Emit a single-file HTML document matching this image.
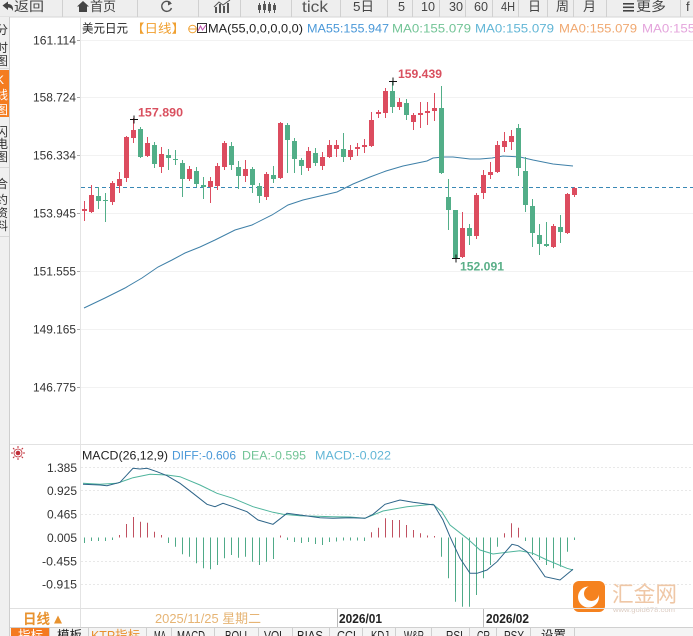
<!DOCTYPE html>
<html><head><meta charset="utf-8"><style>
html,body{margin:0;padding:0;background:#fff;width:693px;height:636px;overflow:hidden}
svg{display:block}
text{font-family:"Liberation Sans","Noto Sans CJK SC",sans-serif}
</style></head><body>
<svg width="693" height="636" viewBox="0 0 693 636" xmlns="http://www.w3.org/2000/svg">
<!-- top bar -->
<rect x="0" y="0" width="693" height="17" fill="#eeeeee"/>
<line x1="0" y1="17" x2="693" y2="17" stroke="#d6d6d6"/>
<g stroke="#d0d0d0"><line x1="62.5" y1="0" x2="62.5" y2="17"/><line x1="137.5" y1="0" x2="137.5" y2="17"/><line x1="198.5" y1="0" x2="198.5" y2="17"/><line x1="240.5" y1="0" x2="240.5" y2="17"/><line x1="291.5" y1="0" x2="291.5" y2="17"/><line x1="340.5" y1="0" x2="340.5" y2="17"/><line x1="387.5" y1="0" x2="387.5" y2="17"/><line x1="412.5" y1="0" x2="412.5" y2="17"/><line x1="439.5" y1="0" x2="439.5" y2="17"/><line x1="465.5" y1="0" x2="465.5" y2="17"/><line x1="492.5" y1="0" x2="492.5" y2="17"/><line x1="518.5" y1="0" x2="518.5" y2="17"/><line x1="547.5" y1="0" x2="547.5" y2="17"/><line x1="573.5" y1="0" x2="573.5" y2="17"/><line x1="606.5" y1="0" x2="606.5" y2="17"/><line x1="680.5" y1="0" x2="680.5" y2="17"/></g>
<path d="M2.5 5.5 L8 1.5 L8 4 Q13.5 4 13 11 Q11.5 7.5 8 7.5 L8 10 Z" fill="#444"/>
<g fill="#444" font-size="13">
<text x="14" y="11" textLength="30" lengthAdjust="spacingAndGlyphs">返回</text>
<text x="90" y="11" textLength="26" lengthAdjust="spacingAndGlyphs">首页</text>
<text x="302" y="12" font-size="16" fill="#555" textLength="26" lengthAdjust="spacingAndGlyphs">tick</text>
<text x="353" y="11" textLength="21" lengthAdjust="spacingAndGlyphs">5日</text>
<text x="398" y="11" textLength="7" lengthAdjust="spacingAndGlyphs">5</text>
<text x="421" y="11" textLength="14" lengthAdjust="spacingAndGlyphs">10</text>
<text x="449" y="11" textLength="14" lengthAdjust="spacingAndGlyphs">30</text>
<text x="474" y="11" textLength="14" lengthAdjust="spacingAndGlyphs">60</text>
<text x="501" y="11" textLength="14" lengthAdjust="spacingAndGlyphs">4H</text>
<text x="528" y="11" textLength="13" lengthAdjust="spacingAndGlyphs">日</text>
<text x="556" y="11" textLength="13" lengthAdjust="spacingAndGlyphs">周</text>
<text x="583" y="11" textLength="13" lengthAdjust="spacingAndGlyphs">月</text>
<text x="636" y="11" textLength="30" lengthAdjust="spacingAndGlyphs">更多</text>
<text x="686" y="11">f</text>
</g>
<path d="M77 6.5 L83 1 L89 6.5 L87 6.5 L87 12 L79 12 L79 6.5 Z" fill="#444"/>
<path d="M170.5 3 A5 5 0 1 0 171.5 8" fill="none" stroke="#555" stroke-width="1.4"/>
<path d="M168 1 L172 3.5 L168 5.5 Z" fill="#555"/>
<g fill="#555"><rect x="215" y="7" width="2" height="6"/><rect x="219" y="4" width="2" height="9"/><rect x="223" y="6" width="2" height="7"/><rect x="227" y="3" width="2" height="10"/></g>
<path d="M214 7 L219 2 L223 5 L230 0" fill="none" stroke="#555" stroke-width="1"/>
<g fill="#555"><rect x="259" y="3" width="1" height="10"/><rect x="258" y="5" width="3" height="5"/><rect x="264" y="1" width="1" height="12"/><rect x="263" y="4" width="3" height="6"/><rect x="269" y="2" width="1" height="11"/><rect x="268" y="4" width="3" height="7"/><rect x="274" y="3" width="1" height="10"/><rect x="273" y="5" width="3" height="5"/></g>
<g fill="#444"><rect x="623" y="3" width="11" height="1.6"/><rect x="623" y="6.5" width="11" height="1.6"/><rect x="623" y="10" width="11" height="1.6"/></g>

<!-- sidebar -->
<rect x="0" y="17" width="9.5" height="619" fill="#f0f0f0"/>
<rect x="0" y="70" width="9.5" height="47" fill="#f47c20"/>
<line x1="9.5" y1="17" x2="9.5" y2="636" stroke="#cfcfcf"/>
<g font-size="12" fill="#333">
<text x="-4" y="34">分</text><text x="-4" y="52">时</text><text x="-4" y="65">图</text>
<text x="-4" y="84" fill="#fff">K</text><text x="-4" y="99" fill="#fff">线</text><text x="-4" y="114" fill="#fff">图</text>
<text x="-4" y="136">闪</text><text x="-4" y="148">电</text><text x="-4" y="161">图</text>
<text x="-4" y="188">合</text><text x="-4" y="204">约</text><text x="-4" y="217">资</text><text x="-4" y="230">料</text>
</g>
<line x1="0" y1="68.5" x2="9" y2="68.5" stroke="#d8d8d8"/><line x1="0" y1="167.5" x2="9" y2="167.5" stroke="#d8d8d8"/><line x1="0" y1="236.5" x2="9" y2="236.5" stroke="#d8d8d8"/>

<!-- axis border -->
<line x1="80.5" y1="17" x2="80.5" y2="608" stroke="#e4e4e4"/>
<!-- main gridlines -->
<g stroke="#f2f2f2"><line x1="81" y1="40.5" x2="693" y2="40.5"/><line x1="81" y1="97.5" x2="693" y2="97.5"/><line x1="81" y1="155.5" x2="693" y2="155.5"/><line x1="81" y1="213.5" x2="693" y2="213.5"/><line x1="81" y1="271.5" x2="693" y2="271.5"/><line x1="81" y1="329.5" x2="693" y2="329.5"/><line x1="81" y1="387.5" x2="693" y2="387.5"/></g>
<g stroke="#aaa"><line x1="77" y1="40.5" x2="80" y2="40.5"/><line x1="77" y1="97.5" x2="80" y2="97.5"/><line x1="77" y1="155.5" x2="80" y2="155.5"/><line x1="77" y1="213.5" x2="80" y2="213.5"/><line x1="77" y1="271.5" x2="80" y2="271.5"/><line x1="77" y1="329.5" x2="80" y2="329.5"/><line x1="77" y1="387.5" x2="80" y2="387.5"/></g>
<g font-size="12" fill="#333" text-anchor="end">
<text x="76" y="44.5" textLength="43" lengthAdjust="spacingAndGlyphs">161.114</text>
<text x="76" y="101.5" textLength="43" lengthAdjust="spacingAndGlyphs">158.724</text>
<text x="76" y="159.5" textLength="43" lengthAdjust="spacingAndGlyphs">156.334</text>
<text x="76" y="217.5" textLength="43" lengthAdjust="spacingAndGlyphs">153.945</text>
<text x="76" y="275.5" textLength="43" lengthAdjust="spacingAndGlyphs">151.555</text>
<text x="76" y="333.5" textLength="43" lengthAdjust="spacingAndGlyphs">149.165</text>
<text x="76" y="391.5" textLength="43" lengthAdjust="spacingAndGlyphs">146.775</text>
</g>

<!-- title -->
<g font-size="12">
<text x="82" y="32.5" fill="#222" textLength="46" lengthAdjust="spacingAndGlyphs">美元日元</text>
<text x="131" y="32.5" fill="#f0a030" textLength="54" lengthAdjust="spacingAndGlyphs">【日线】</text>
<text x="208" y="32.5" fill="#222" textLength="95" lengthAdjust="spacingAndGlyphs">MA(55,0,0,0,0,0)</text>
<text x="307" y="32.5" fill="#4a98d8" textLength="82" lengthAdjust="spacingAndGlyphs">MA55:155.947</text>
<text x="392" y="32.5" fill="#72c496" textLength="79" lengthAdjust="spacingAndGlyphs">MA0:155.079</text>
<text x="475" y="32.5" fill="#62b6d6" textLength="79" lengthAdjust="spacingAndGlyphs">MA0:155.079</text>
<text x="559" y="32.5" fill="#f0a870" textLength="78" lengthAdjust="spacingAndGlyphs">MA0:155.079</text>
<text x="642" y="32.5" fill="#e4a4dc" textLength="79" lengthAdjust="spacingAndGlyphs">MA0:155.079</text>
</g>
<circle cx="192.5" cy="29" r="3.8" fill="none" stroke="#f0a030"/>
<line x1="189" y1="29" x2="196" y2="29" stroke="#f0a030"/>
<rect x="197.5" y="23.5" width="9" height="9" fill="#fff" stroke="#333"/>
<path d="M198 31 L200.5 26 L202.5 30 L206 25" fill="none" stroke="#c050b0"/>

<!-- dashed price line -->
<line x1="81" y1="187.5" x2="693" y2="187.5" stroke="#3a88b5" stroke-dasharray="4 3"/>
<!-- MA55 -->
<polyline fill="none" stroke="#3f80a8" stroke-width="1" points="84,308 105,298 125,288 142,278 158,267 172,260 185,253 200,247 215,240 235,230 252,225 272,215 288,205 303,200 320,196 337,192 353,184 370,177 386,171 403,166 427,161 433,158 443,157 453,157 470,159 480,159 492,158 503,156 520,157 533,160 553,164 573,166"/>

<!-- candles red -->
<g fill="#dc4c5f">
<rect x="84" y="201" width="1" height="20"/><rect x="82" y="209" width="5" height="2"/>
<rect x="91" y="185" width="1" height="28"/><rect x="89" y="195" width="5" height="17"/>
<rect x="112" y="181" width="1" height="24"/><rect x="110" y="183" width="5" height="19"/>
<rect x="119" y="172" width="1" height="21"/><rect x="117" y="179" width="5" height="7"/>
<rect x="126" y="136" width="1" height="46"/><rect x="124" y="137" width="5" height="41"/>
<rect x="133" y="118" width="1" height="25"/><rect x="131" y="130" width="5" height="8"/>
<rect x="147" y="137" width="1" height="20"/><rect x="145" y="143" width="5" height="13"/>
<rect x="161" y="147" width="1" height="26"/><rect x="159" y="154" width="5" height="13"/>
<rect x="189" y="166" width="1" height="15"/><rect x="187" y="169" width="5" height="10"/>
<rect x="210" y="177" width="1" height="26"/><rect x="208" y="181" width="5" height="6"/>
<rect x="217" y="163" width="1" height="27"/><rect x="215" y="166" width="5" height="20"/>
<rect x="224" y="141" width="1" height="29"/><rect x="222" y="143" width="5" height="24"/>
<rect x="245" y="160" width="1" height="22"/><rect x="243" y="169" width="5" height="7"/>
<rect x="266" y="172" width="1" height="28"/><rect x="264" y="174" width="5" height="23"/>
<rect x="280" y="122" width="1" height="57"/><rect x="278" y="123" width="5" height="55"/>
<rect x="308" y="147" width="1" height="24"/><rect x="306" y="151" width="5" height="17"/>
<rect x="322" y="152" width="1" height="18"/><rect x="320" y="157" width="5" height="9"/>
<rect x="329" y="140" width="1" height="18"/><rect x="327" y="145" width="5" height="12"/>
<rect x="336" y="140" width="1" height="17"/><rect x="334" y="145" width="5" height="4"/>
<rect x="350" y="145" width="1" height="15"/><rect x="348" y="150" width="5" height="7"/>
<rect x="357" y="143" width="1" height="13"/><rect x="355" y="147" width="5" height="2"/>
<rect x="364" y="139" width="1" height="14"/><rect x="362" y="145" width="5" height="2"/>
<rect x="371" y="112" width="1" height="35"/><rect x="369" y="120" width="5" height="26"/>
<rect x="378" y="110" width="1" height="8"/><rect x="376" y="112" width="5" height="2"/>
<rect x="385" y="88" width="1" height="30"/><rect x="383" y="91" width="5" height="22"/>
<rect x="399" y="98" width="1" height="12"/><rect x="397" y="102" width="5" height="5"/>
<rect x="413" y="113" width="1" height="17"/><rect x="411" y="115" width="5" height="7"/>
<rect x="420" y="102" width="1" height="26"/><rect x="418" y="113" width="5" height="2"/>
<rect x="427" y="102" width="1" height="23"/><rect x="425" y="111" width="5" height="2"/>
<rect x="434" y="93" width="1" height="28"/><rect x="432" y="108" width="5" height="3"/>
<rect x="462" y="212" width="1" height="46"/><rect x="460" y="228" width="5" height="29"/>
<rect x="476" y="193" width="1" height="46"/><rect x="474" y="195" width="5" height="41"/>
<rect x="483" y="170" width="1" height="29"/><rect x="481" y="175" width="5" height="18"/>
<rect x="490" y="162" width="1" height="17"/><rect x="488" y="172" width="5" height="3"/>
<rect x="497" y="141" width="1" height="32"/><rect x="495" y="145" width="5" height="27"/>
<rect x="504" y="132" width="1" height="20"/><rect x="502" y="141" width="5" height="6"/>
<rect x="511" y="130" width="1" height="20"/><rect x="509" y="136" width="5" height="6"/>
<rect x="553" y="224" width="1" height="24"/><rect x="551" y="226" width="5" height="21"/>
<rect x="567" y="193" width="1" height="41"/><rect x="565" y="194" width="5" height="39"/>
<rect x="574" y="187" width="1" height="10"/><rect x="572" y="188" width="5" height="7"/>
</g>
<!-- candles green -->
<g fill="#52ae88">
<rect x="98" y="187" width="1" height="22"/><rect x="96" y="196" width="5" height="5"/>
<rect x="105" y="193" width="1" height="29"/><rect x="103" y="200" width="5" height="1"/>
<rect x="140" y="127" width="1" height="31"/><rect x="138" y="129" width="5" height="28"/>
<rect x="154" y="142" width="1" height="26"/><rect x="152" y="145" width="5" height="19"/>
<rect x="168" y="149" width="1" height="21"/><rect x="166" y="155" width="5" height="3"/>
<rect x="175" y="150" width="1" height="15"/><rect x="173" y="159" width="5" height="1"/>
<rect x="182" y="160" width="1" height="37"/><rect x="180" y="163" width="5" height="16"/>
<rect x="196" y="167" width="1" height="20"/><rect x="194" y="171" width="5" height="13"/>
<rect x="203" y="177" width="1" height="22"/><rect x="201" y="185" width="5" height="2"/>
<rect x="231" y="142" width="1" height="28"/><rect x="229" y="146" width="5" height="19"/>
<rect x="238" y="161" width="1" height="28"/><rect x="236" y="167" width="5" height="9"/>
<rect x="252" y="167" width="1" height="26"/><rect x="250" y="169" width="5" height="16"/>
<rect x="259" y="183" width="1" height="20"/><rect x="257" y="186" width="5" height="10"/>
<rect x="273" y="166" width="1" height="17"/><rect x="271" y="175" width="5" height="4"/>
<rect x="287" y="123" width="1" height="50"/><rect x="285" y="125" width="5" height="15"/>
<rect x="294" y="138" width="1" height="35"/><rect x="292" y="141" width="5" height="18"/>
<rect x="301" y="158" width="1" height="17"/><rect x="299" y="160" width="5" height="6"/>
<rect x="315" y="148" width="1" height="18"/><rect x="313" y="153" width="5" height="10"/>
<rect x="343" y="133" width="1" height="29"/><rect x="341" y="149" width="5" height="8"/>
<rect x="392" y="81" width="1" height="32"/><rect x="390" y="91" width="5" height="16"/>
<rect x="406" y="99" width="1" height="21"/><rect x="404" y="103" width="5" height="12"/>
<rect x="441" y="86" width="1" height="88"/><rect x="439" y="108" width="5" height="65"/>
<rect x="448" y="179" width="1" height="51"/><rect x="446" y="197" width="5" height="13"/>
<rect x="455" y="210" width="1" height="48"/><rect x="453" y="210" width="5" height="48"/>
<rect x="469" y="224" width="1" height="21"/><rect x="467" y="228" width="5" height="8"/>
<rect x="518" y="124" width="1" height="52"/><rect x="516" y="128" width="5" height="40"/>
<rect x="525" y="157" width="1" height="55"/><rect x="523" y="171" width="5" height="34"/>
<rect x="532" y="199" width="1" height="48"/><rect x="530" y="206" width="5" height="27"/>
<rect x="539" y="224" width="1" height="31"/><rect x="537" y="235" width="5" height="9"/>
<rect x="546" y="222" width="1" height="25"/><rect x="544" y="244" width="5" height="2"/>
<rect x="560" y="215" width="1" height="28"/><rect x="558" y="227" width="5" height="5"/>
</g>

<!-- high/low markers -->
<g stroke="#111" stroke-width="1">
<line x1="130" y1="119.5" x2="138" y2="119.5"/><line x1="134" y1="115.5" x2="134" y2="123.5"/>
<line x1="389" y1="81.5" x2="397" y2="81.5"/><line x1="393" y1="77.5" x2="393" y2="85.5"/>
<line x1="452" y1="258.5" x2="460" y2="258.5"/><line x1="456" y1="254.5" x2="456" y2="262.5"/>
</g>
<g font-size="12" font-weight="bold">
<text x="138" y="116.5" fill="#d9505f" textLength="45" lengthAdjust="spacingAndGlyphs">157.890</text>
<text x="398" y="78" fill="#d9505f" textLength="44" lengthAdjust="spacingAndGlyphs">159.439</text>
<text x="460" y="270.5" fill="#5aaf88" textLength="44" lengthAdjust="spacingAndGlyphs">152.091</text>
</g>

<!-- MACD panel -->
<line x1="10" y1="444.5" x2="693" y2="444.5" stroke="#e2e2e2"/>
<g stroke="#e8e8e8" stroke-dasharray="2 2"><line x1="81" y1="467.5" x2="693" y2="467.5"/><line x1="81" y1="490.5" x2="693" y2="490.5"/><line x1="81" y1="514.5" x2="693" y2="514.5"/><line x1="81" y1="561.5" x2="693" y2="561.5"/><line x1="81" y1="584.5" x2="693" y2="584.5"/></g>
<g fill="#c0303a"><circle cx="18" cy="453" r="2.3"/></g>
<circle cx="18" cy="453" r="4" fill="none" stroke="#c0303a" stroke-width="0.8"/>
<g stroke="#c0303a" stroke-width="1"><line x1="18" y1="446" x2="18" y2="448"/><line x1="18" y1="458" x2="18" y2="460"/><line x1="11" y1="453" x2="13" y2="453"/><line x1="23" y1="453" x2="25" y2="453"/><line x1="13" y1="448" x2="14.4" y2="449.4"/><line x1="21.6" y1="456.6" x2="23" y2="458"/><line x1="13" y1="458" x2="14.4" y2="456.6"/><line x1="21.6" y1="449.4" x2="23" y2="448"/></g>
<g font-size="12">
<text x="82" y="459.5" fill="#222" textLength="86" lengthAdjust="spacingAndGlyphs">MACD(26,12,9)</text>
<text x="172" y="459.5" fill="#4a98d8" textLength="64" lengthAdjust="spacingAndGlyphs">DIFF:-0.606</text>
<text x="242" y="459.5" fill="#72c496" textLength="64" lengthAdjust="spacingAndGlyphs">DEA:-0.595</text>
<text x="315" y="459.5" fill="#62b6d6" textLength="76" lengthAdjust="spacingAndGlyphs">MACD:-0.022</text>
</g>
<g font-size="12" fill="#333" text-anchor="end">
<text x="77" y="472" textLength="30" lengthAdjust="spacingAndGlyphs">1.385</text>
<text x="77" y="495" textLength="30" lengthAdjust="spacingAndGlyphs">0.925</text>
<text x="77" y="518.5" textLength="30" lengthAdjust="spacingAndGlyphs">0.465</text>
<text x="77" y="541.8" textLength="30" lengthAdjust="spacingAndGlyphs">0.005</text>
<text x="77" y="565.5" textLength="35" lengthAdjust="spacingAndGlyphs">-0.455</text>
<text x="77" y="588.5" textLength="35" lengthAdjust="spacingAndGlyphs">-0.915</text>
</g>
<!-- histogram -->
<path stroke="#c05060" stroke-width="1" fill="none" d="M119.5 537.5V535M126.5 537.5V524M133.5 537.5V517M140.5 537.5V521.7M147.5 537.5V522.7M154.5 537.5V531.7M161.5 537.5V535M280.5 537.5V535.5M371.5 537.5V532.3M378.5 537.5V527.7M385.5 537.5V518.3M392.5 537.5V520M399.5 537.5V520M406.5 537.5V525M413.5 537.5V530M420.5 537.5V533.3M427.5 537.5V535.5M434.5 537.5V536M504.5 537.5V533.3M511.5 537.5V523.3M518.5 537.5V527.7"/>
<path stroke="#4faa88" stroke-width="1" fill="none" d="M84.5 537.5V543M91.5 537.5V541M98.5 537.5V541M105.5 537.5V541M112.5 537.5V540M168.5 537.5V543M175.5 537.5V546.7M182.5 537.5V554.3M189.5 537.5V556.7M196.5 537.5V563.3M203.5 537.5V568.3M210.5 537.5V569.3M217.5 537.5V565M224.5 537.5V558.3M231.5 537.5V555M238.5 537.5V557.7M245.5 537.5V556.7M252.5 537.5V561.7M259.5 537.5V565M266.5 537.5V561.7M273.5 537.5V559M287.5 537.5V540M294.5 537.5V542M301.5 537.5V543M308.5 537.5V542M315.5 537.5V544M322.5 537.5V545M329.5 537.5V542M336.5 537.5V541.5M343.5 537.5V540.5M350.5 537.5V540.5M357.5 537.5V540.5M364.5 537.5V541M441.5 537.5V556.7M448.5 537.5V578.3M455.5 537.5V601.7M462.5 537.5V606.7M469.5 537.5V606.7M476.5 537.5V595M483.5 537.5V578.3M490.5 537.5V565M497.5 537.5V546.7M525.5 537.5V541M532.5 537.5V555M539.5 537.5V560M546.5 537.5V565M553.5 537.5V568.3M560.5 537.5V566.7M567.5 537.5V551.7M574.5 537.5V540"/>
<!-- DEA -->
<polyline fill="none" stroke="#4fb49c" stroke-width="1" points="83,483.3 100,484.3 117,483.3 133,477.7 150,474.3 167,475 180,476.7 200,485 217,493.3 233,498.3 253,506.7 273,512.3 283,514.3 300,515.7 333,516.7 350,517 365,518.3 383,511 407,506.7 433,504.3 442,512 450,525 467,538.3 480,550 493,554 520,550.7 533,553.3 547,560 567,568.3 573,570"/>
<!-- DIFF -->
<polyline fill="none" stroke="#2d6488" stroke-width="1" points="83,484.3 100,485 107,485.7 120,482.3 133,468.3 140,469 147,468.3 157,471.7 167,475.7 180,483.3 193,493.3 207,504.3 215,506.7 223,503.3 233,506.7 247,511.7 258,520 273,524.3 287,513.3 300,515 320,517.7 333,518.3 350,517.7 365,518.3 373,514.3 385,504.3 400,500 413,502.3 434,505 443,520 450,536.7 460,558.3 470,573.3 477,573.3 487,570 497,561.7 512,544.3 518,545.7 527,551.7 537,565 545,576.7 560,580 573,569.3"/>

<!-- watermark -->
<rect x="573" y="581" width="32" height="31" rx="6" fill="#f5821f"/>
<circle cx="588.5" cy="597" r="10.5" fill="#fff"/>
<circle cx="591.5" cy="593.5" r="7.5" fill="#f5821f"/>
<text x="612" y="602" font-size="22" fill="#efc7a6" textLength="65" lengthAdjust="spacingAndGlyphs">汇金网</text>
<text x="613" y="612" font-size="6" fill="#dcccc2" textLength="62" lengthAdjust="spacingAndGlyphs">www.gold678.com</text>

<!-- date row -->
<line x1="10" y1="608.5" x2="693" y2="608.5" stroke="#e0e0e0"/>
<line x1="10" y1="627.5" x2="693" y2="627.5" stroke="#d0d0d0"/>
<line x1="80.5" y1="608" x2="80.5" y2="627" stroke="#e0e0e0"/>
<text x="23" y="624" font-size="14" font-weight="bold" fill="#e8922e" textLength="27" lengthAdjust="spacingAndGlyphs">日线</text>
<path d="M54 623.5 L58 615.5 L62 623.5 Z" fill="#e8922e"/>
<text x="155" y="623" font-size="13" fill="#e6b474" textLength="106" lengthAdjust="spacingAndGlyphs">2025/11/25 星期二</text>
<line x1="337.5" y1="609" x2="337.5" y2="627" stroke="#bbb"/>
<text x="339" y="623" font-size="13" font-weight="bold" fill="#222" textLength="43" lengthAdjust="spacingAndGlyphs">2026/01</text>
<line x1="483.5" y1="609" x2="483.5" y2="627" stroke="#bbb"/>
<text x="486" y="623" font-size="13" font-weight="bold" fill="#222" textLength="43" lengthAdjust="spacingAndGlyphs">2026/02</text>

<!-- bottom tabs -->
<rect x="10" y="628" width="683" height="8" fill="#f4f4f4"/>
<rect x="11" y="628" width="38" height="8" fill="#f47a20"/>
<g stroke="#cfcfcf"><line x1="49.5" y1="628" x2="49.5" y2="636"/><line x1="88.5" y1="628" x2="88.5" y2="636"/><line x1="146.5" y1="628" x2="146.5" y2="636"/><line x1="171.5" y1="628" x2="171.5" y2="636"/><line x1="214.5" y1="628" x2="214.5" y2="636"/><line x1="258.5" y1="628" x2="258.5" y2="636"/><line x1="292.5" y1="628" x2="292.5" y2="636"/><line x1="329.5" y1="628" x2="329.5" y2="636"/><line x1="362.5" y1="628" x2="362.5" y2="636"/><line x1="395.5" y1="628" x2="395.5" y2="636"/><line x1="431.5" y1="628" x2="431.5" y2="636"/><line x1="469.5" y1="628" x2="469.5" y2="636"/><line x1="496.5" y1="628" x2="496.5" y2="636"/><line x1="530.5" y1="628" x2="530.5" y2="636"/><line x1="574.5" y1="628" x2="574.5" y2="636"/></g>
<g font-size="13" fill="#222">
<text x="18" y="640" fill="#fff" textLength="25" lengthAdjust="spacingAndGlyphs">指标</text>
<text x="57" y="640" textLength="25" lengthAdjust="spacingAndGlyphs">模板</text>
<text x="91" y="640" fill="#e8902e" textLength="49" lengthAdjust="spacingAndGlyphs">KTP指标</text>
<text x="154" y="640" textLength="12" lengthAdjust="spacingAndGlyphs">MA</text>
<text x="177" y="640" textLength="28" lengthAdjust="spacingAndGlyphs">MACD</text>
<text x="225" y="640" textLength="25" lengthAdjust="spacingAndGlyphs">BOLL</text>
<text x="264" y="640" textLength="21" lengthAdjust="spacingAndGlyphs">VOL</text>
<text x="297" y="640" textLength="26" lengthAdjust="spacingAndGlyphs">BIAS</text>
<text x="337" y="640" textLength="19" lengthAdjust="spacingAndGlyphs">CCI</text>
<text x="371" y="640" textLength="18" lengthAdjust="spacingAndGlyphs">KDJ</text>
<text x="404" y="640" textLength="20" lengthAdjust="spacingAndGlyphs">W&amp;R</text>
<text x="446" y="640" textLength="17" lengthAdjust="spacingAndGlyphs">RSI</text>
<text x="477" y="640" textLength="13" lengthAdjust="spacingAndGlyphs">CR</text>
<text x="504" y="640" textLength="20" lengthAdjust="spacingAndGlyphs">PSY</text>
<text x="541" y="640" textLength="25" lengthAdjust="spacingAndGlyphs">设置</text>
</g>
</svg>
</body></html>
